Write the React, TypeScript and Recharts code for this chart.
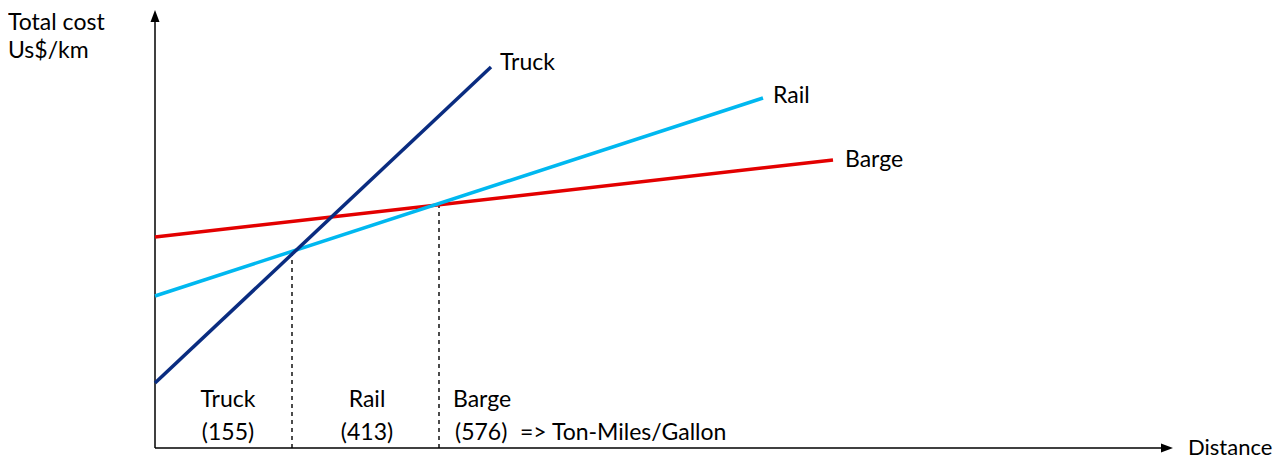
import {
  Line,
  LineChart,
  ReferenceDot,
  ReferenceLine,
  XAxis,
  YAxis,
} from "recharts";

type Point = { distance: number; cost: number };

// (distance / cost in chart units)
const truckCost: Point[] = [
  { distance: 0, cost: 65 },
  { distance: 336, cost: 381 },
];
const railCost: Point[] = [
  { distance: 0, cost: 152 },
  { distance: 608, cost: 350 },
];
const bargeCost: Point[] = [
  { distance: 0, cost: 211 },
  { distance: 678, cost: 288 },
];

// break-even points (where the dashed drop lines start)
const breakEven: Point[] = [
  { distance: 137, cost: 195 },
  { distance: 284, cost: 243 },
];

const seriesNames = ["Truck", "Rail", "Barge"];
const efficiency = ["(155)", "(413)", "(576)"];
const unitNote = "=> Ton-Miles/Gallon";

const X_MAX = 1018;
const Y_MAX = 438;
const FONT = "Lato, 'Open Sans', sans-serif";
const FS = 23;

const lbl = (value: string, position: "center" | "right", size = FS) => ({
  value,
  position,
  offset: 0,
  fill: "#000",
  fontSize: size,
  fontFamily: FONT,
});

const XArrow = (p: any) => (
  <polygon
    points={`${p.cx},${p.cy} ${p.cx - 12},${p.cy - 4.5} ${p.cx - 12},${p.cy + 4.5}`}
    fill="#000"
  />
);
const YArrow = (p: any) => (
  <polygon
    points={`${p.cx},${p.cy} ${p.cx - 4.5},${p.cy + 12} ${p.cx + 4.5},${p.cy + 12}`}
    fill="#000"
  />
);

export default function App() {
  return (
    <LineChart
      width={1280}
      height={453}
      margin={{ top: 2, right: 115, bottom: 13, left: 147 }}
    >
      <XAxis dataKey="distance" type="number" domain={[0, X_MAX]} hide />
      <YAxis type="number" domain={[0, Y_MAX]} hide />

      {/* axes with arrows */}
      <ReferenceLine
        segment={[{ x: 0, y: 0 }, { x: X_MAX - 6, y: 0 }]}
        stroke="#000"
        strokeWidth={1.5}
        ifOverflow="visible"
      />
      <ReferenceLine
        segment={[{ x: 0, y: 0 }, { x: 0, y: Y_MAX - 6 }]}
        stroke="#000"
        strokeWidth={1.5}
        ifOverflow="visible"
      />
      <ReferenceDot x={X_MAX} y={0} r={0} ifOverflow="visible" shape={XArrow} />
      <ReferenceDot x={0} y={Y_MAX} r={0} ifOverflow="visible" shape={YArrow} />

      {/* dashed drop lines at break-even distances */}
      {breakEven.map((b, i) => (
        <ReferenceLine
          key={i}
          segment={[{ x: b.distance, y: 0 }, { x: b.distance, y: b.cost }]}
          stroke="#000"
          strokeDasharray="4 4"
          strokeWidth={1.4}
        />
      ))}

      <Line data={bargeCost} dataKey="cost" stroke="#E30000" strokeWidth={3.5} dot={false} isAnimationActive={false} />
      <Line data={railCost} dataKey="cost" stroke="#00B8F0" strokeWidth={3.5} dot={false} isAnimationActive={false} />
      <Line data={truckCost} dataKey="cost" stroke="#0A2C80" strokeWidth={3.5} dot={false} isAnimationActive={false} />

      {/* series names at line ends */}
      <ReferenceDot x={345} y={386} r={0} ifOverflow="visible" label={lbl(seriesNames[0], "right")} />
      <ReferenceDot x={618} y={353} r={0} ifOverflow="visible" label={lbl(seriesNames[1], "right")} />
      <ReferenceDot x={690} y={289} r={0} ifOverflow="visible" label={lbl(seriesNames[2], "right")} />

      {/* regions under the axis */}
      <ReferenceDot x={73} y={49} r={0} label={lbl(seriesNames[0], "center")} />
      <ReferenceDot x={73} y={16} r={0} label={lbl(efficiency[0], "center")} />
      <ReferenceDot x={212} y={49} r={0} label={lbl(seriesNames[1], "center")} />
      <ReferenceDot x={212} y={16} r={0} label={lbl(efficiency[1], "center")} />
      <ReferenceDot x={298} y={49} r={0} label={lbl(seriesNames[2], "right")} />
      <ReferenceDot x={300} y={16} r={0} label={lbl(efficiency[2], "right")} />
      <ReferenceDot x={365} y={16} r={0} label={lbl(unitNote, "right")} />

      {/* axis titles */}
      <ReferenceDot x={-147} y={426} r={0} ifOverflow="visible" label={lbl("Total cost", "right")} />
      <ReferenceDot x={-147} y={398} r={0} ifOverflow="visible" label={lbl("Us$/km", "right")} />
      <ReferenceDot x={1033} y={1} r={0} ifOverflow="visible" label={lbl("Distance", "right", 22)} />
    </LineChart>
  );
}
